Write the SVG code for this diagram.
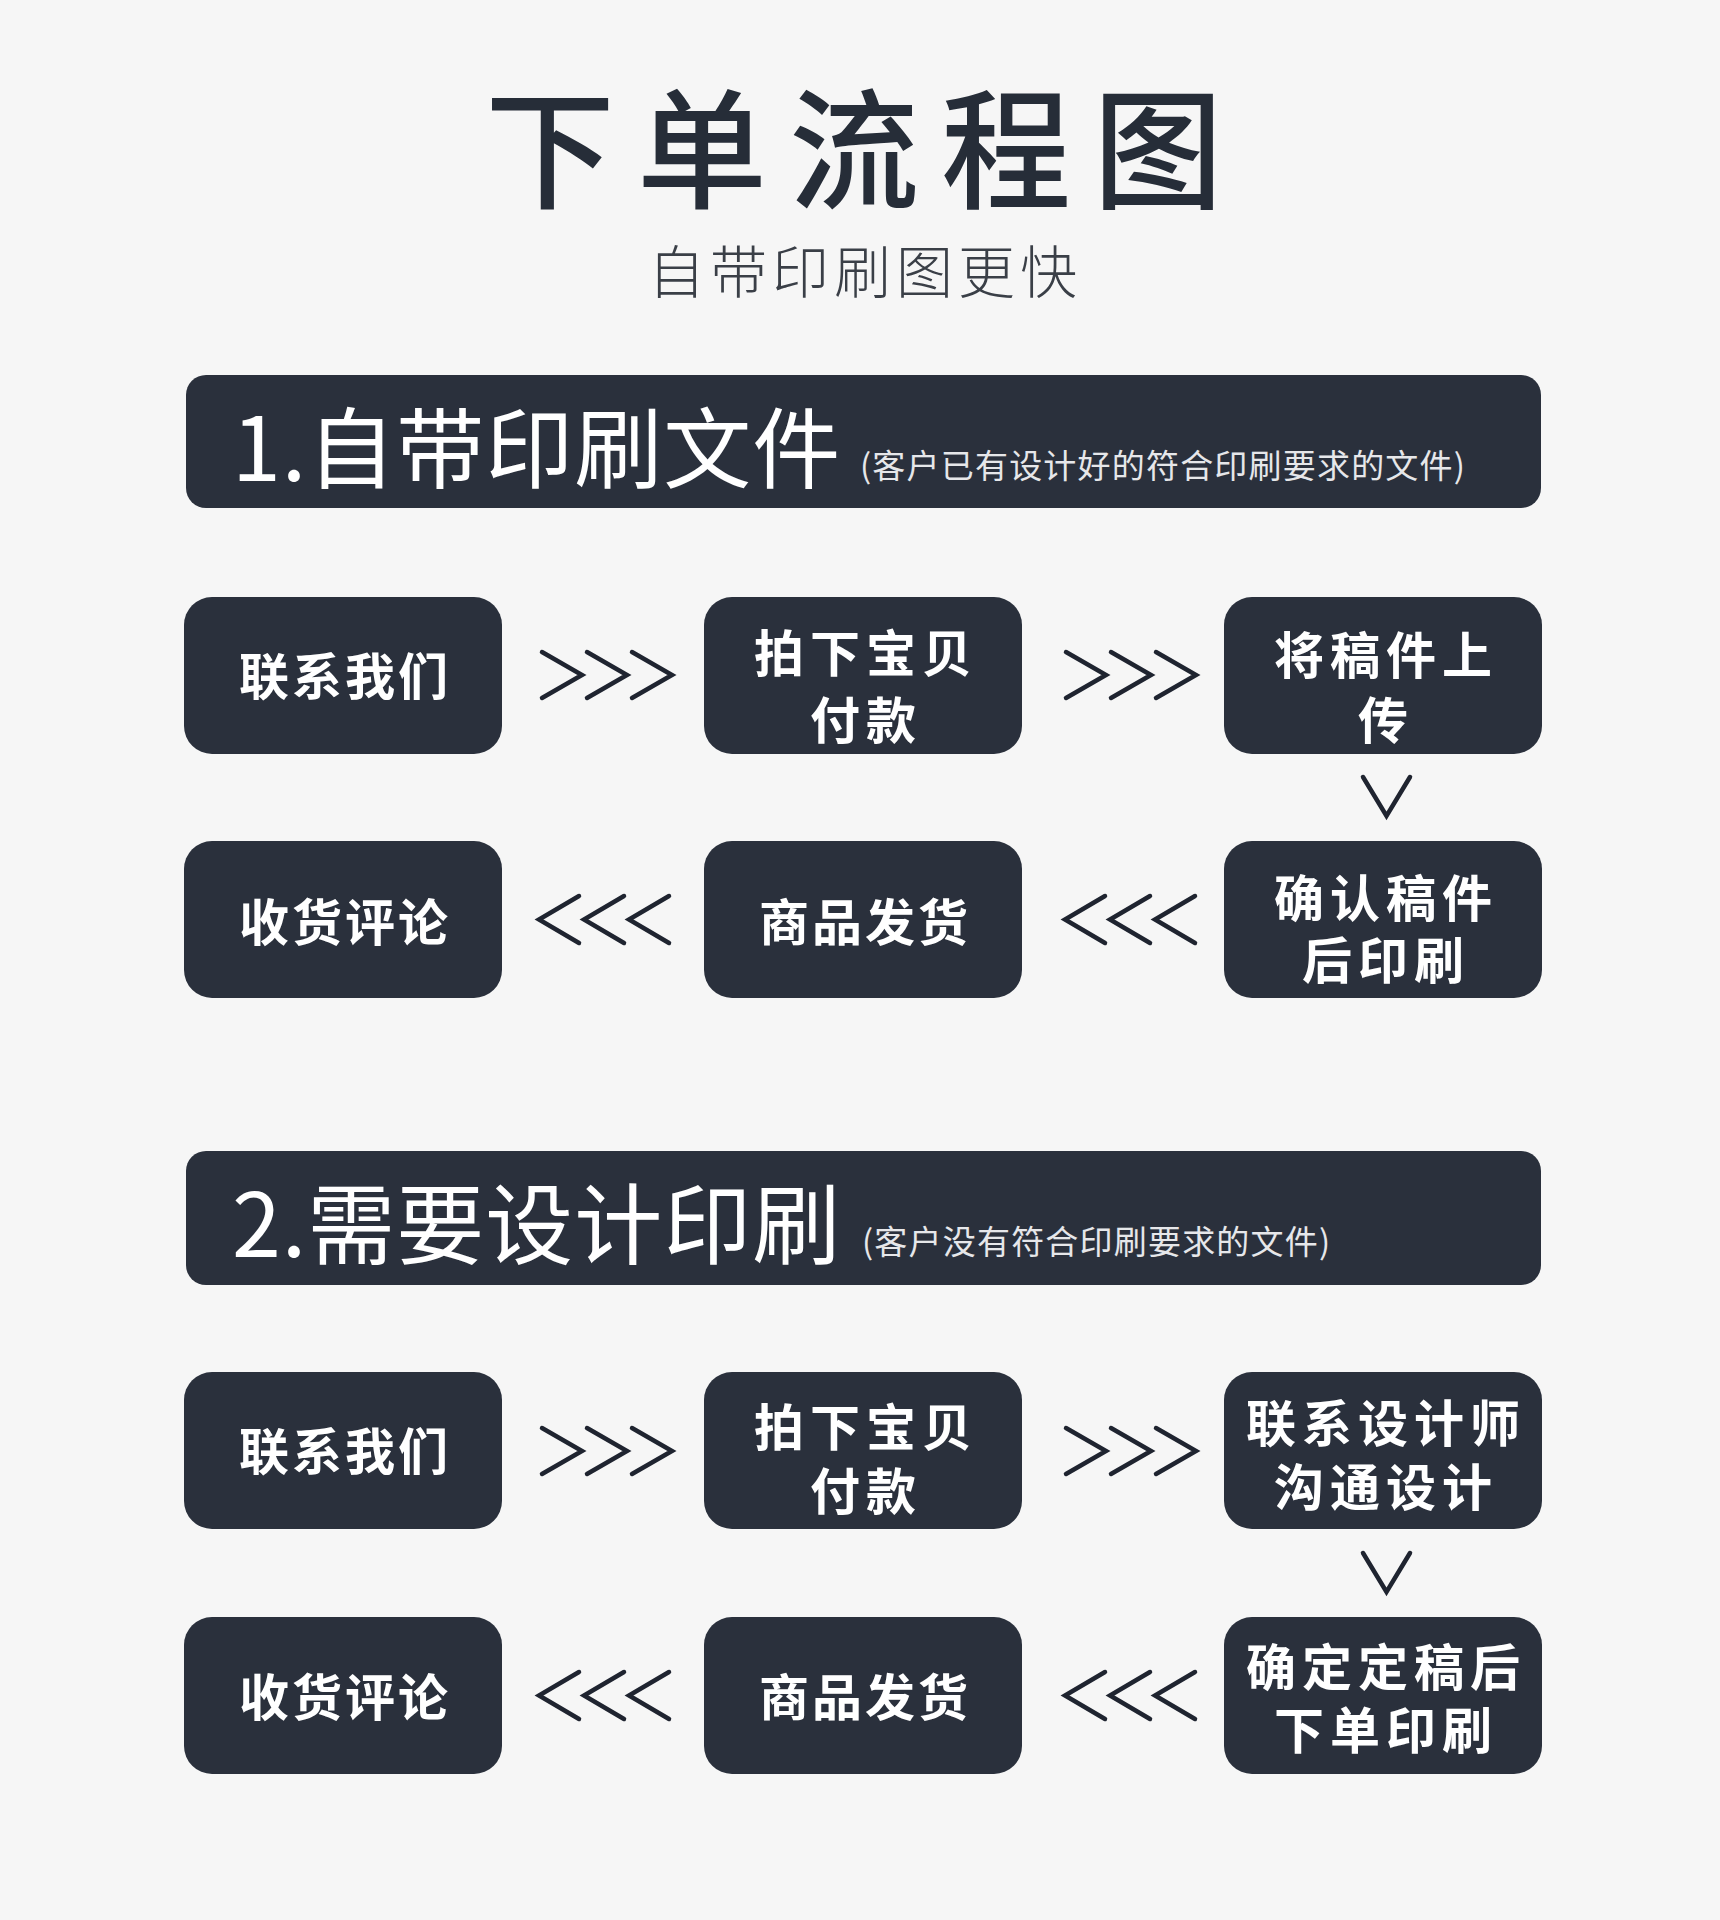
<svg xmlns="http://www.w3.org/2000/svg" width="1720" height="1920" viewBox="0 0 1720 1920">
<defs>
<style>
.bg{fill:#f6f6f6}
.node rect{fill:#2a303c}
.hdr rect{fill:#2a303c}
.nt{font-family:"Noto Sans CJK SC","Noto Sans",sans-serif;font-size:50px;font-weight:700;fill:#ffffff;text-anchor:middle;dominant-baseline:central;letter-spacing:6px}
.nt1{letter-spacing:3px}
.ht{font-family:"Noto Sans CJK SC","Noto Sans",sans-serif;font-size:88px;font-weight:400;fill:#ffffff;dominant-baseline:central;letter-spacing:1px}
.hs{font-family:"Noto Sans CJK SC","Noto Sans",sans-serif;font-size:33px;font-weight:400;fill:#e6e7ea;dominant-baseline:central;letter-spacing:1.2px}
.conn path{fill:none;stroke:#1f2430;stroke-width:4.5;stroke-linecap:round;stroke-linejoin:miter}
</style>
</defs>
<rect class="bg" x="0" y="0" width="1720" height="1920"/>
<g id="title">
<text x="865" y="141" style="font-family:'Noto Sans CJK SC','Noto Sans',sans-serif;font-size:130px;font-weight:500;fill:#262d38;text-anchor:middle;dominant-baseline:central;letter-spacing:22px">下单流程图</text>
<text x="865" y="268" style="font-family:'Noto Sans CJK SC','Noto Sans',sans-serif;font-size:57px;font-weight:300;fill:#3a3f47;text-anchor:middle;dominant-baseline:central;letter-spacing:5px">自带印刷图更快</text>
</g>
<g id="header1" class="hdr">
<rect x="186" y="375" width="1355" height="133" rx="20"/>
<text class="ht" x="232" y="442">1.自带印刷文件</text>
<text class="hs" x="860" y="464">(客户已有设计好的符合印刷要求的文件)</text>
</g>
<g id="s1-contact" class="node"><rect x="184" y="597" width="318" height="157" rx="28"/><text class="nt nt1" x="345" y="673">联系我们</text></g>
<g id="s1-pay" class="node"><rect x="704" y="597" width="318" height="157" rx="28"/><text class="nt" x="866" y="650">拍下宝贝</text><text class="nt" x="866" y="717">付款</text></g>
<g id="s1-upload" class="node"><rect x="1224" y="597" width="318" height="157" rx="28"/><text class="nt" x="1386" y="652">将稿件上</text><text class="nt" x="1386" y="717">传</text></g>
<g id="s1-confirm" class="node"><rect x="1224" y="841" width="318" height="157" rx="28"/><text class="nt" x="1386" y="895">确认稿件</text><text class="nt" x="1386" y="957">后印刷</text></g>
<g id="s1-ship" class="node"><rect x="704" y="841" width="318" height="157" rx="28"/><text class="nt nt1" x="865" y="919">商品发货</text></g>
<g id="s1-review" class="node"><rect x="184" y="841" width="318" height="157" rx="28"/><text class="nt nt1" x="345" y="919">收货评论</text></g>
<g id="header2" class="hdr">
<rect x="186" y="1151" width="1355" height="134" rx="20"/>
<text class="ht" x="232" y="1218">2.需要设计印刷</text>
<text class="hs" x="862" y="1240">(客户没有符合印刷要求的文件)</text>
</g>
<g id="s2-contact" class="node"><rect x="184" y="1372" width="318" height="157" rx="28"/><text class="nt nt1" x="345" y="1448">联系我们</text></g>
<g id="s2-pay" class="node"><rect x="704" y="1372" width="318" height="157" rx="28"/><text class="nt" x="866" y="1424">拍下宝贝</text><text class="nt" x="866" y="1488">付款</text></g>
<g id="s2-designer" class="node"><rect x="1224" y="1372" width="318" height="157" rx="28"/><text class="nt" x="1386" y="1420">联系设计师</text><text class="nt" x="1386" y="1484">沟通设计</text></g>
<g id="s2-confirm" class="node"><rect x="1224" y="1617" width="318" height="157" rx="28"/><text class="nt" x="1386" y="1664">确定定稿后</text><text class="nt" x="1386" y="1727">下单印刷</text></g>
<g id="s2-ship" class="node"><rect x="704" y="1617" width="318" height="157" rx="28"/><text class="nt nt1" x="865" y="1694">商品发货</text></g>
<g id="s2-review" class="node"><rect x="184" y="1617" width="318" height="157" rx="28"/><text class="nt nt1" x="345" y="1694">收货评论</text></g>
<g id="connectors" class="conn">
<path d="M542 652L582 675L542 698M587 652L627 675L587 698M632 652L672 675L632 698"/>
<path d="M1066 652L1106 675L1066 698M1111 652L1151 675L1111 698M1156 652L1196 675L1156 698"/>
<path d="M1363 777L1386.5 816L1410 777"/>
<path d="M1195 896L1155 919.5L1195 943M1150 896L1110 919.5L1150 943M1105 896L1065 919.5L1105 943"/>
<path d="M669 896L629 919.5L669 943M624 896L584 919.5L624 943M579 896L539 919.5L579 943"/>
<path d="M542 1428L582 1451L542 1474M587 1428L627 1451L587 1474M632 1428L672 1451L632 1474"/>
<path d="M1066 1428L1106 1451L1066 1474M1111 1428L1151 1451L1111 1474M1156 1428L1196 1451L1156 1474"/>
<path d="M1363 1553L1386.5 1592L1410 1553"/>
<path d="M1195 1672L1155 1695.5L1195 1719M1150 1672L1110 1695.5L1150 1719M1105 1672L1065 1695.5L1105 1719"/>
<path d="M669 1672L629 1695.5L669 1719M624 1672L584 1695.5L624 1719M579 1672L539 1695.5L579 1719"/>
</g>
</svg>
